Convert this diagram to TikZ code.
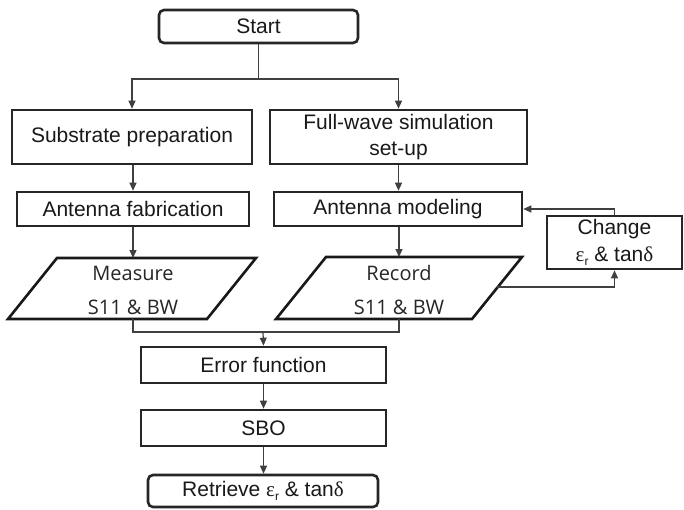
\documentclass[tikz,border=0pt]{standalone}
\usepackage{fontspec}
\setmainfont{Liberation Sans}
\newfontfamily\grk{Liberation Serif}
\newfontfamily\seg{Open Sans}
\usetikzlibrary{arrows.meta}
\newcommand{\epsr}{{\grk\symbol{"03B5}}\raisebox{-0.35ex}{\fontsize{12}{12}\selectfont r}}
\newcommand{\tand}{tan{\grk\symbol{"03B4}}}
\begin{document}
\begin{tikzpicture}[x=1pt,y=-1pt,
  txt/.style={font=\fontsize{21}{26}\selectfont, text=black!90},
  box/.style={draw=black!85, line width=2.6pt, inner sep=0pt, align=center, txt},
  rbox/.style={box, rounded corners=5pt},
  para/.style={draw=black!90, line width=2.6pt, line join=miter},
  ptxt/.style={font=\seg\fontsize{20}{24}\selectfont, text=black!85, inner sep=0pt},
  conn/.style={draw=black!75, line width=1.2pt},
  arr/.style={conn, -{Triangle[length=8pt,width=7pt]}}]
\useasboundingbox (0,0) rectangle (684,509);
\fill[white] (0,0) rectangle (684,509);

\node[rbox, minimum width=199pt, minimum height=33pt] (start) at (258.5,26.5) {Start};
\node[box, minimum width=240pt, minimum height=54pt] (sub) at (132,137) {Substrate preparation};
\node[box, minimum width=257pt, minimum height=54pt] (fw) at (398.5,137) {Full-wave simulation\\set-up};
\node[box, minimum width=232pt, minimum height=34pt] (fab) at (133,209) {Antenna fabrication};
\node[box, minimum width=248pt, minimum height=34pt] (mod) at (398,209) {Antenna modeling};
\node[box, minimum width=135pt, minimum height=53pt, font=\fontsize{21}{27}\selectfont] (chg) at (614.5,242.5) {Change\\\epsr\ \& \tand};

% Measure parallelogram
\coordinate (mtop) at (133,258);
\coordinate (mbot) at (133,319);
\draw[para] (57,258) -- (256,258) -- (207,319) -- (8,319) -- cycle;
\node[ptxt] (meast) at (133,273.5) {Measure};
\node[ptxt] (measb) at (133,307) {S11 \& BW};
% Record parallelogram
\coordinate (rtop) at (399,257);
\coordinate (rbot) at (399,319);
\coordinate (rright) at (497,287);
\draw[para] (326,257) -- (522,257) -- (472,319) -- (276,319) -- cycle;
\node[ptxt] (rect) at (399,273) {Record};
\node[ptxt] (recb) at (399,307) {S11 \& BW};

\node[box, minimum width=245pt, minimum height=36pt] (err) at (263.5,365) {Error function};
\node[box, minimum width=245pt, minimum height=36pt] (sbo) at (263.5,428) {SBO};
\node[rbox, minimum width=230pt, minimum height=32pt] (ret) at (263,491) {Retrieve \epsr\ \& \tand};

\coordinate (split) at (258.5,79);
\coordinate (join) at (263,332);

\draw[conn] (start.south) -- (split);
\draw[arr] (split) -| (sub.north);
\draw[arr] (split) -| (fw.north);
\draw[arr] (sub.south -| fab.north) -- (fab.north);
\draw[arr] (fw.south) -- (mod.north -| fw.south);
\draw[arr] (fab.south) -- (mtop);
\draw[arr] (mod.south -| rtop) -- (rtop);
\draw[conn] (mbot) -- (mbot |- join) -- (rbot |- join) -- (rbot);
\draw[arr] (join) -- (err.north);
\draw[arr] (err.south) -- (sbo.north);
\draw[arr] (sbo.south) -- (ret.north -| sbo.south);
\draw[arr] (chg.north) |- (mod.east);
\draw[arr] (rright) -| (chg.south);
\end{tikzpicture}
\end{document}
